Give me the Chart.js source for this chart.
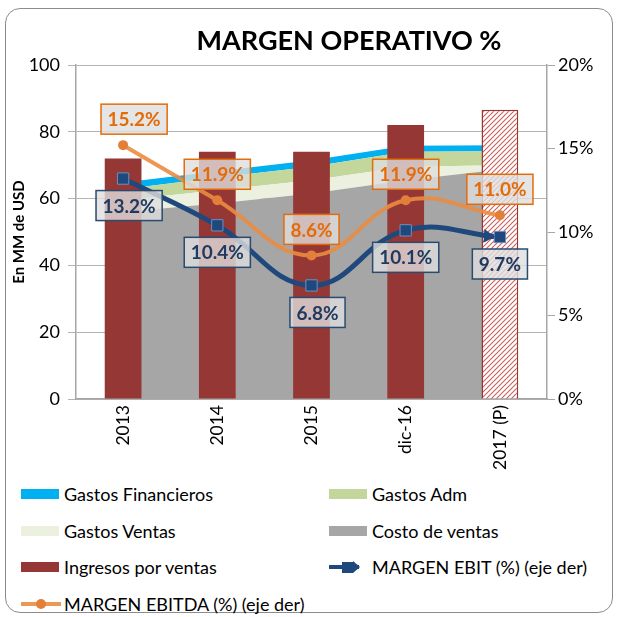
<!DOCTYPE html>
<html lang="es">
<head>
    <meta charset="UTF-8">
    <title>Margen operativo</title>
    <style>
        body { margin: 0; background: #fff; font-family: Lato, 'Open Sans', sans-serif; }
        /* marco redondeado */
        .marco {
            position: absolute; left: 5px; top: 8px; width: 608px; height: 605px;
            border: 1.5px solid #8c8c8c; border-radius: 15px; box-sizing: border-box;
        }
        .titulo {
            position: absolute; left: 49px; top: 23px; width: 600px;
            text-align: center; font-weight: bold; font-size: 27px; color: #000;
        }
        #grafico { position: absolute; left: 0; top: 0; }
        .leyenda { position: absolute; left: 21px; top: 481px; width: 590px; }
        .item {
            position: absolute; display: flex; align-items: center;
            font-size: 18px; color: #000; white-space: nowrap; height: 26px;
        }
        .item canvas { margin-right: 3px; }
    </style>
</head>
<body>
    <div class="marco"></div>
    <canvas id="grafico" width="618" height="480"></canvas>
    <div class="titulo">MARGEN OPERATIVO %</div>
    <div class="leyenda" id="leyenda"></div>

    <script src="https://cdn.jsdelivr.net/npm/chart.js"></script>
    <script>
        // Datos
        const categorias = ['2013', '2014', '2015', 'dic-16', '2017 (P)'];
        const costoVentas = [56, 58.5, 61.5, 65.5, 68.7];
        const gastosVentas = [3.5, 4, 4, 4, 1.3];
        const gastosAdm = [3.3, 3.8, 4, 4.5, 4.2];
        const gastosFinancieros = [2, 1.9, 2, 1.8, 1.8];
        const ingresos = [72, 74, 74, 82, 86.6];
        const margenEbit = [13.2, 10.4, 6.8, 10.1, 9.7];
        const margenEbitda = [15.2, 11.9, 8.6, 11.9, 11.0];

        const rojo = '#953735';

        // patron rayado para el ultimo año (proyectado)
        function rayado() {
            const c = document.createElement('canvas');
            c.width = 5; c.height = 5;
            const g = c.getContext('2d');
            g.fillStyle = '#fff';
            g.fillRect(0, 0, 5, 5);
            g.strokeStyle = '#c8605c';
            g.lineWidth = 1.1;
            g.beginPath();
            g.moveTo(-1, 6); g.lineTo(6, -1);
            g.moveTo(-1, 1); g.lineTo(1, -1);
            g.moveTo(4, 6); g.lineTo(6, 4);
            g.stroke();
            return g.createPattern(c, 'repeat');
        }
        const patron = rayado();

        // etiquetas con caja para las lineas de margen
        const etiquetas = {
            id: 'etiquetas',
            afterDatasetDraw(chart, args) {
                const ds = chart.data.datasets[args.index];
                const ctx = chart.ctx;
                const meta = args.meta;
                // flecha al final de la linea EBIT
                if (ds.flecha) {
                    const p = meta.data[meta.data.length - 1];
                    let vx = p.x - p.cp1x, vy = p.y - p.cp1y;
                    const n = Math.hypot(vx, vy) || 1;
                    vx /= n; vy /= n;
                    const tx = p.x - vx * 5, ty = p.y - vy * 5;
                    const bx = tx - vx * 11, by = ty - vy * 11;
                    ctx.save();
                    ctx.fillStyle = ds.borderColor;
                    ctx.beginPath();
                    ctx.moveTo(tx, ty);
                    ctx.lineTo(bx - vy * 7, by + vx * 7);
                    ctx.lineTo(bx + vy * 7, by - vx * 7);
                    ctx.closePath();
                    ctx.fill();
                    ctx.restore();
                }
            },
            afterDatasetsDraw(chart) {
                const ctx = chart.ctx;
                chart.data.datasets.forEach((ds, i) => {
                    if (!ds.etiqueta) return;
                    const e = ds.etiqueta;
                    chart.getDatasetMeta(i).data.forEach((pt, j) => {
                        const txt = ds.data[j].toFixed(1) + '%';
                        ctx.save();
                        ctx.font = 'bold 19px Lato';
                        const w = ctx.measureText(txt).width + 13;
                        const h = 30;
                        const cx = pt.x + e.dx[j];
                        const cy = pt.y + e.dy;
                        ctx.fillStyle = 'rgba(222,222,222,0.8)';
                        ctx.fillRect(cx - w / 2, cy - h / 2, w, h);
                        ctx.strokeStyle = e.borde;
                        ctx.lineWidth = 1.5;
                        ctx.strokeRect(cx - w / 2, cy - h / 2, w, h);
                        ctx.fillStyle = e.color;
                        ctx.textAlign = 'center';
                        ctx.textBaseline = 'middle';
                        ctx.fillText(txt, cx, cy + 1);
                        ctx.restore();
                    });
                });
            }
        };

        function area(label, data, color, fill) {
            return {
                type: 'line', label, data, yAxisID: 'y', stack: 'costos', order: 3,
                backgroundColor: color, borderColor: color, borderWidth: 0,
                pointRadius: 0, tension: 0, fill
            };
        }

        const datasets = [
            area('Costo de ventas', costoVentas, '#a6a6a6', 'origin'),
            area('Gastos Ventas', gastosVentas, '#ebf1de', '-1'),
            area('Gastos Adm', gastosAdm, '#c3d69b', '-1'),
            area('Gastos Financieros', gastosFinancieros, '#00b0f0', '-1'),
            {
                type: 'bar', label: 'Ingresos por ventas', data: ingresos, yAxisID: 'y',
                stack: 'ingresos', order: 2,
                backgroundColor: [rojo, rojo, rojo, rojo, patron],
                borderColor: rojo, borderWidth: [0, 0, 0, 0, 1.5],
                barPercentage: 0.39, categoryPercentage: 1
            },
            {
                type: 'line', label: 'MARGEN EBIT (%) (eje der)', data: margenEbit, yAxisID: 'y1',
                order: 1, borderColor: '#1f497d', borderWidth: 5, tension: 0.42, fill: false,
                pointStyle: 'rect', pointRadius: 8, pointBackgroundColor: '#1f497d',
                pointBorderColor: '#6d8fbf', pointBorderWidth: 1, flecha: true,
                etiqueta: { dy: 27, dx: [6, 0, 6, 0, 0], color: '#1f3a60', borde: '#2a4a70' }
            },
            {
                type: 'line', label: 'MARGEN EBITDA (%) (eje der)', data: margenEbitda, yAxisID: 'y1',
                order: 0, borderColor: 'rgba(235,140,65,0.9)', borderWidth: 4, tension: 0.42, fill: false,
                pointStyle: 'circle', pointRadius: 5, pointBackgroundColor: '#e2803a',
                pointBorderColor: '#e2803a', pointBorderWidth: 0,
                etiqueta: { dy: -26, dx: [11, 0, 0, 0, 0], color: '#e36c0a', borde: '#e36c0a' }
            }
        ];

        const fuente = { family: 'Lato', size: 18 };

        const chart = new Chart(document.getElementById('grafico'), {
            data: { labels: categorias, datasets },
            options: {
                responsive: false,
                animation: false,
                layout: { padding: { left: 10, right: 8, top: 65, bottom: 0 } },
                plugins: { legend: { display: false }, tooltip: { enabled: false } },
                scales: {
                    x: {
                        stacked: false,
                        grid: { drawOnChartArea: false, drawTicks: false },
                        border: { color: '#a6a6a6', width: 1.5 },
                        ticks: { minRotation: 90, maxRotation: 90, padding: 6, color: '#000', font: { family: 'Lato', size: 17.5 } },
                        afterFit: s => { s.height = 81; }
                    },
                    y: {
                        position: 'left', stacked: true, min: 0, max: 100,
                        ticks: { stepSize: 20, color: '#000', font: fuente, padding: 8 },
                        grid: { color: '#b4b4b4', lineWidth: 1, tickLength: 8 },
                        border: { color: '#a6a6a6', width: 1.5 },
                        title: { display: true, text: 'En MM de USD', color: '#000', font: { family: 'Lato', size: 15, weight: 'bold' }, padding: 0 },
                        afterFit: s => { s.width = 66; }
                    },
                    y1: {
                        position: 'right', stacked: false, min: 0, max: 20,
                        ticks: { stepSize: 5, color: '#000', font: fuente, padding: 3, callback: v => v + '%' },
                        grid: { drawOnChartArea: false, color: '#a6a6a6', tickLength: 8 },
                        border: { color: '#a6a6a6', width: 1.5 },
                        afterFit: s => { s.width = 63; }
                    }
                }
            },
            plugins: [etiquetas]
        });

        // leyenda en dos columnas
        const ordenLeyenda = [3, 2, 1, 0, 4, 5, 6];
        const leyenda = document.getElementById('leyenda');
        ordenLeyenda.forEach((idx, k) => {
            const ds = chart.data.datasets[idx];
            const item = document.createElement('div');
            item.className = 'item';
            item.style.left = (k % 2 ? 308 : 0) + 'px';
            item.style.top = (Math.floor(k / 2) * 36.5) + 'px';
            const c = document.createElement('canvas');
            c.width = 40; c.height = 16;
            const g = c.getContext('2d');
            if (ds.type === 'line' && ds.yAxisID === 'y1') {
                g.strokeStyle = ds.borderColor;
                g.lineWidth = 4;
                g.beginPath(); g.moveTo(0, 8); g.lineTo(ds.flecha ? 30 : 40, 8); g.stroke();
                g.fillStyle = ds.pointBackgroundColor;
                if (ds.flecha) {
                    g.fillRect(13, 3, 11, 11);
                    g.beginPath(); g.moveTo(24, 2); g.lineTo(31, 8); g.lineTo(24, 14); g.closePath(); g.fill();
                } else {
                    g.beginPath(); g.arc(20, 8, 5, 0, Math.PI * 2); g.fill();
                }
            } else {
                g.fillStyle = Array.isArray(ds.backgroundColor) ? ds.backgroundColor[0] : ds.backgroundColor;
                g.fillRect(0, 3, 38, 10);
            }
            item.appendChild(c);
            const t = document.createElement('span');
            t.textContent = ds.label;
            item.appendChild(t);
            leyenda.appendChild(item);
        });
    </script>
</body>
</html>
